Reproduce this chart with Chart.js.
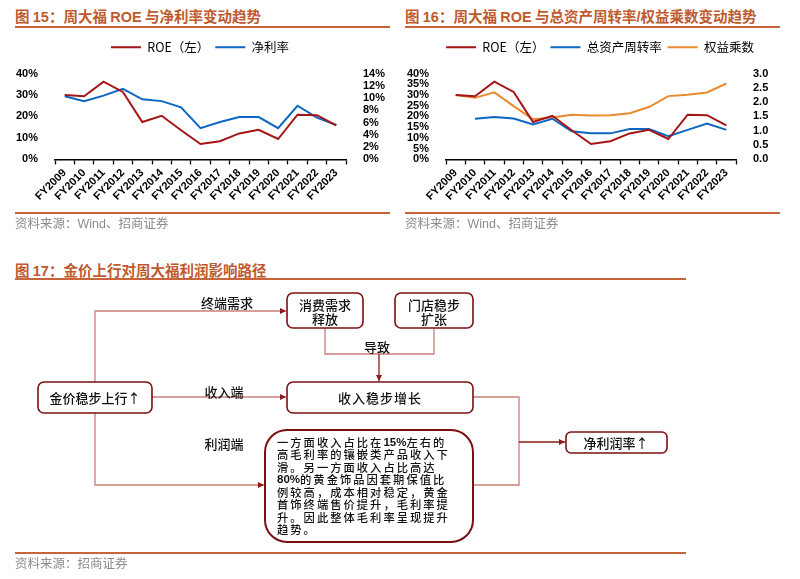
<!DOCTYPE html>
<html>
<head>
<meta charset="utf-8">
<script src="https://cdn.jsdelivr.net/npm/chart.js@4.4.0/dist/chart.umd.min.js"></script>
<style>
body{margin:0;width:800px;height:579px;background:#fff;position:relative;overflow:hidden;font-family:"Noto Sans CJK SC",sans-serif}
.title{position:absolute;font-weight:bold;font-size:14.5px;color:#bf5a2e;white-space:nowrap;line-height:16px}
.title b{font-family:"Liberation Sans",Arial,sans-serif}
.rule{position:absolute;height:2px;background:#c8643c}
.src{position:absolute;font-size:12.5px;color:#8c8c8c;white-space:nowrap;line-height:14px}
.src span{font-family:"Liberation Sans",Arial,sans-serif}
canvas{position:absolute}
#flow{position:absolute;left:0;top:0}
#flow text{font-family:"Noto Sans CJK SC",sans-serif;fill:#111;font-size:13px;font-weight:500}
#flow .para text{font-size:11.3px;letter-spacing:2px}
#flow .para tspan.n{font-family:"Liberation Sans",Arial,sans-serif;font-weight:bold;letter-spacing:0;font-size:11.5px}
</style>
</head>
<body>
<div class="title" style="left:15px;top:8px">图 <b>15</b>：周大福 <b>ROE</b> 与净利率变动趋势</div>
<div class="rule" style="left:15px;top:26px;width:375px"></div>
<div class="title" style="left:405px;top:8px">图 <b>16</b>：周大福 <b>ROE</b> 与总资产周转率<b>/</b>权益乘数变动趋势</div>
<div class="rule" style="left:405px;top:26px;width:375px"></div>

<canvas id="c1" width="400" height="180" style="left:0;top:35px;width:400px;height:180px"></canvas>
<canvas id="c2" width="400" height="180" style="left:400px;top:35px;width:400px;height:180px"></canvas>

<div class="rule" style="left:15px;top:212px;width:375px"></div>
<div class="src" style="left:15px;top:216px">资料来源：<span>Wind</span>、招商证券</div>
<div class="rule" style="left:405px;top:212px;width:375px"></div>
<div class="src" style="left:405px;top:216px">资料来源：<span>Wind</span>、招商证券</div>

<div class="title" style="left:15px;top:262px">图 <b>17</b>：金价上行对周大福利润影响路径</div>
<div class="rule" style="left:15px;top:278px;width:671px"></div>

<svg id="flow" width="800" height="579" viewBox="0 0 800 579">
  <defs>
    <marker id="ah" markerWidth="6" markerHeight="6" refX="6" refY="3" orient="auto" markerUnits="userSpaceOnUse">
      <path d="M0,0 L6,3 L0,6 z" fill="#8b1a1a"/>
    </marker>
  </defs>
  <g fill="none" stroke="#cf7c7c" stroke-width="1.3">
    <path d="M95,382 V311 H286" marker-end="url(#ah)"/>
    <path d="M152,397 H286" marker-end="url(#ah)"/>
    <path d="M95,413 V485 H264" marker-end="url(#ah)"/>
    <path d="M325,328 V354 H434 V328"/>
    <path d="M473,397 H519 V485 H473"/>
  </g>
  <g fill="none" stroke="#8b1a1a" stroke-width="1.3">
    <path d="M379,354 V381" marker-end="url(#ah)"/>
    <path d="M519,442 H565" marker-end="url(#ah)"/>
  </g>
  <g fill="#fff" stroke="#7b1010" stroke-width="1.6">
    <rect x="38" y="382" width="114" height="31" rx="6"/>
    <rect x="287" y="293" width="76" height="35" rx="6"/>
    <rect x="395" y="293" width="78" height="35" rx="6"/>
    <rect x="287" y="382" width="186" height="31" rx="6"/>
    <rect x="265" y="430" width="208" height="112" rx="22" stroke-width="2"/>
    <rect x="566" y="432" width="101" height="21" rx="5"/>
  </g>
  <g text-anchor="middle" dominant-baseline="central">
    <text x="95" y="397.5">金价稳步上行↑</text>
    <text x="325" y="304">消费需求</text>
    <text x="325" y="318">释放</text>
    <text x="434" y="304">门店稳步</text>
    <text x="434" y="318">扩张</text>
    <text x="380" y="397.5" style="letter-spacing:1px">收入稳步增长</text>
    <text x="616" y="442.5">净利润率↑</text>
    <text x="227" y="302">终端需求</text>
    <text x="224" y="391">收入端</text>
    <text x="224" y="443">利润端</text>
    <text x="377" y="346">导致</text>
  </g>
  <g class="para" dominant-baseline="central">
    <text x="277" y="441.5">一方面收入占比在<tspan class="n">15%</tspan>左右的</text>
    <text x="277" y="454">高毛利率的镶嵌类产品收入下</text>
    <text x="277" y="466.5">滑。另一方面收入占比高达</text>
    <text x="277" y="479"><tspan class="n">80%</tspan>的黄金饰品因套期保值比</text>
    <text x="277" y="491.5">例较高，成本相对稳定，黄金</text>
    <text x="277" y="504">首饰终端售价提升，毛利率提</text>
    <text x="277" y="516.5">升。因此整体毛利率呈现提升</text>
    <text x="277" y="529">趋势。</text>
  </g>
</svg>

<div class="rule" style="left:15px;top:552px;width:671px"></div>
<div class="src" style="left:15px;top:556px">资料来源：招商证券</div>

<script>
const years = ['FY2009', 'FY2010', 'FY2011', 'FY2012', 'FY2013', 'FY2014', 'FY2015', 'FY2016',
    'FY2017', 'FY2018', 'FY2019', 'FY2020', 'FY2021', 'FY2022', 'FY2023'];
// ROE, %
const roe = [30.0, 29.4, 36.2, 31.4, 17.4, 20.3, 13.6, 7.2, 8.5, 12.1, 13.8, 9.5, 20.8, 20.6, 15.9];
// 净利率, %
const net_margin = [10.3, 9.5, 10.4, 11.5, 9.8, 9.5, 8.5, 5.1, 6.1, 6.9, 6.9, 5.1, 8.75, 6.8, 5.6];
// 总资产周转率 (no FY2009 value)
const asset_turnover = [null, 1.42, 1.48, 1.43, 1.22, 1.42, 0.98, 0.91, 0.91, 1.06, 1.06, 0.81, 1.03, 1.25, 1.03];
// 权益乘数
const equity_mult = [2.25, 2.15, 2.34, 1.86, 1.40, 1.46, 1.56, 1.53, 1.54, 1.61, 1.83, 2.21, 2.26, 2.34, 2.65];

const RED = '#a51515';
const BLUE = '#0b67c4';
const ORANGE = '#e88a2e';

const tickFont = { family: '"Liberation Sans", Arial, sans-serif', size: 11, weight: 'bold' };
const legendFont = { family: '"Noto Sans CJK SC", sans-serif', size: 12.5 };

// push the plot area down below the legend
const legendGap = {
    id: 'legendGap',
    beforeInit(chart) {
        const fit = chart.legend.fit;
        chart.legend.fit = function () {
            fit.bind(chart.legend)();
            this.height += 10;
        };
    }
};

function fixWidth(w) {
    return scale => { scale.width = w; };
}

function line(label, data, color, axis) {
    return {
        label: label,
        data: data,
        yAxisID: axis,
        borderColor: color,
        backgroundColor: color,
        borderWidth: 2,
        pointRadius: 0,
        tension: 0,
        fill: false
    };
}

function xAxis() {
    return {
        offset: true,
        grid: { display: true, drawOnChartArea: false, offset: true, color: '#000', tickLength: 5, tickWidth: 1.3 },
        border: { display: true, color: '#000', width: 1.5 },
        ticks: { font: tickFont, color: '#000', minRotation: 45, maxRotation: 45, autoSkip: false, padding: 2 }
    };
}

function yAxis(pos, min, max, step, fmt, width) {
    return {
        position: pos,
        min: min,
        max: max,
        afterFit: fixWidth(width),
        grid: { display: false },
        border: { display: false },
        ticks: { stepSize: step, autoSkip: false, font: tickFont, color: '#000', padding: 9, callback: fmt }
    };
}

function legendOpts() {
    return {
        position: 'top',
        labels: {
            usePointStyle: true,
            pointStyle: 'line',
            pointStyleWidth: 30,
            font: legendFont,
            color: '#000',
            padding: 6,
            boxHeight: 2
        }
    };
}

new Chart(document.getElementById('c1'), {
    type: 'line',
    data: {
        labels: years,
        datasets: [
            line('ROE（左）', roe, RED, 'y'),
            line('净利率', net_margin, BLUE, 'y1')
        ]
    },
    options: {
        responsive: false,
        animation: false,
        layout: { padding: { top: 0, bottom: 10 } },
        plugins: { legend: legendOpts(), tooltip: { enabled: false } },
        scales: {
            x: xAxis(),
            y: yAxis('left', 0, 40, 10, v => v + '%', 55),
            y1: yAxis('right', 0, 14, 2, v => v + '%', 54)
        }
    },
    plugins: [legendGap]
});

new Chart(document.getElementById('c2'), {
    type: 'line',
    data: {
        labels: years,
        datasets: [
            line('ROE（左）', roe, RED, 'y'),
            line('总资产周转率', asset_turnover, BLUE, 'y1'),
            line('权益乘数', equity_mult, ORANGE, 'y1')
        ]
    },
    options: {
        responsive: false,
        animation: false,
        layout: { padding: { top: 0, bottom: 10 } },
        plugins: { legend: legendOpts(), tooltip: { enabled: false } },
        scales: {
            x: xAxis(),
            y: yAxis('left', 0, 40, 5, v => v + '%', 46),
            y1: yAxis('right', 0, 3, 0.5, v => v.toFixed(1), 64)
        }
    },
    plugins: [legendGap]
});
</script>
</body>
</html>
